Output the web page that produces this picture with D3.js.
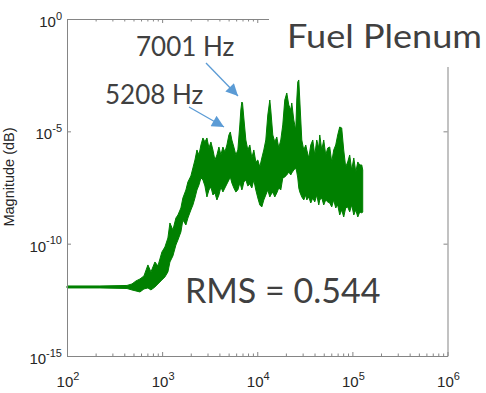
<!DOCTYPE html>
<html><head><meta charset="utf-8">
<script src="https://cdn.jsdelivr.net/npm/d3@7"></script>
<style>html,body{margin:0;padding:0;background:#fff;} svg{display:block;}</style>
</head><body>
<svg id="c" width="486" height="393"></svg>
<script>
// ---- data ----
const freq = [100,222,427,482,531,585,644,709,763,840,903,995,1070,1150,1208,1298,1396,1466,1575,1653,1778,1866,2006,2107,2213,2323,2438,2559,2685,2818,2958,3105,3258,3420,3589,3767,3954,4150,4355,4571,4797,5035,5208,5408,5675,5957,6252,6561,6722,6886,7001,7228,7586,7962,8356,8770,9204,9660,10140,10640,11170,11720,12300,12910,13550,13880,14570,15290,16050,16840,17680,18550,19470,20440,21450,22510,23070,24210,25410,26030,26670,27330,28000,29390,30840,32370,33170,34810,36530,38340,40240,42230,44320,45400,47650,50000,52480,55080,57810,60670,63670,66820,70130,73600,77240,81070,85080,89290,93710,98350,103500,108600,114000,119600,125500,128500];
const magUpper = [1.31e-12,1.31e-12,1.38e-12,1.61e-12,2.19e-12,2.69e-12,3.65e-12,1.13e-11,5.5e-12,1.53e-11,1.02e-11,4.27e-11,7.13e-11,1.79e-10,8.34e-10,4.07e-10,1.39e-9,1.89e-9,3.88e-9,1.08e-8,2.45e-8,5.57e-8,1.03e-7,2.34e-7,5.31e-7,1.48e-6,8.86e-7,2.47e-6,5.06e-6,3.36e-6,5.06e-6,1.82e-6,3.36e-6,1.48e-6,5.31e-7,8.86e-7,2.01e-6,8.86e-7,2.01e-6,1.2e-6,2.47e-6,6.88e-6,9.36e-6,4.12e-6,2.01e-6,8.86e-7,1.48e-6,1.92e-5,8.92e-5,2.02e-4,1.83e-4,3.93e-5,4.12e-6,1.48e-6,2.47e-6,6.52e-7,1.48e-6,4.33e-7,5.31e-7,2.59e-7,6.52e-7,1.48e-6,4.12e-6,5.34e-5,2.48e-4,8.92e-5,6.88e-6,3.36e-6,5.61e-6,1.82e-6,4.12e-6,1.92e-5,2.48e-4,5.09e-4,1.49e-4,8.92e-5,1.83e-4,3.2e-5,1.15e-5,2.48e-4,1.57e-3,1.93e-3,2.48e-4,4.12e-6,1.48e-6,2.47e-6,1.48e-6,6.52e-7,2.47e-6,4.12e-6,8.86e-7,4.12e-6,1.82e-6,6.88e-6,1.48e-6,4.12e-6,8.86e-7,1.82e-6,2.01e-6,4.33e-7,1.48e-6,2.47e-6,6.88e-6,1.56e-5,1.41e-5,1.48e-6,2.59e-7,4.33e-7,8.86e-7,1.9e-7,6.52e-7,1.55e-7,4.33e-7,3.18e-7,3.18e-7,1.9e-7];
const magLower = [1.07e-12,1.07e-12,1.01e-12,8.7e-13,7.85e-13,7.08e-13,9.64e-13,1.07e-12,8.7e-13,1.18e-12,1.61e-12,2.42e-12,3.3e-12,5.5e-12,1.53e-11,2.84e-11,8.75e-11,1.46e-10,3.32e-10,1.13e-9,6.8e-10,1.39e-9,3.16e-9,5.28e-9,1.08e-8,2.45e-8,4.1e-8,8.39e-8,6.84e-8,3.7e-8,1.2e-8,2.45e-8,3.34e-8,1.47e-8,1.8e-8,8.8e-9,1.47e-8,3.34e-8,2.0e-8,3.01e-8,4.54e-8,6.84e-8,9.3e-8,5.03e-8,3.01e-8,2.0e-8,2.45e-8,5.03e-8,3.7e-8,2.45e-8,3.01e-8,5.57e-8,6.84e-8,3.7e-8,4.54e-8,3.01e-8,6.84e-8,2.45e-8,1.08e-8,5.28e-9,4.3e-9,8.8e-9,1.47e-8,2.45e-8,1.2e-8,1.47e-8,2.0e-8,1.2e-8,1.8e-8,3.01e-8,2.45e-8,8.39e-8,9.3e-8,1.14e-7,1.55e-7,1.14e-7,1.4e-7,1.9e-7,2.34e-7,1.55e-7,8.39e-8,3.01e-8,2.0e-8,1.2e-8,8.8e-9,1.47e-8,8.8e-9,1.2e-8,6.47e-9,1.08e-8,7.18e-9,1.47e-8,5.28e-9,8.8e-9,1.08e-8,5.28e-9,8.8e-9,7.18e-9,6.47e-9,4.3e-9,8.8e-9,3.88e-9,5.28e-9,1.89e-9,3.16e-9,1.54e-9,3.88e-9,4.3e-9,2.58e-9,5.28e-9,1.89e-9,3.16e-9,1.54e-9,2.58e-9,2.32e-9,2.58e-9];
const xTickExp = [2,3,4,5,6];
const yTickExp = [0,-5,-10,-15];
const annotations = [
  {label:"7001 Hz", f:7001},
  {label:"5208 Hz", f:5208}
];
const title = "Fuel Plenum";
const rmsText = "RMS = 0.544";
const yLabel = "Magnitude (dB)";

// ---- drawing ----
const svg = d3.select("#c");
const x = d3.scaleLog().domain([1e2,1e6]).range([67,447.5]);
const y = d3.scaleLog().domain([1e-15,1]).range([356,19]);
const axisColor = "#858585", labelColor = "#262626";

const data = freq.map((f,i)=>({f, hi:magUpper[i], lo:magLower[i]}));

svg.append("path").datum(data)
  .attr("d", d3.area().x(d=>x(d.f)).y0(d=>y(d.lo)).y1(d=>y(d.hi)))
  .attr("fill","#008000").attr("stroke","#008000").attr("stroke-width",1)
  .attr("stroke-linejoin","miter");

const majors = xTickExp.map(e=>Math.pow(10,e));
const minors = [];
xTickExp.slice(0,-1).forEach(e=>{for(let k=2;k<=9;k++) minors.push(k*Math.pow(10,e));});
function styleAxis(g){
  g.select(".domain").attr("stroke",axisColor).attr("stroke-width",1);
  g.selectAll(".tick line").attr("stroke",axisColor).attr("stroke-width",1);
  g.selectAll("text").remove();
}
svg.append("g").attr("transform","translate(0,356)")
  .call(d3.axisBottom(x).tickValues(majors).tickSizeInner(-4).tickSizeOuter(0).tickFormat("")).call(styleAxis);
svg.append("g").attr("transform","translate(0,356)")
  .call(d3.axisBottom(x).tickValues(minors).tickSizeInner(-2.5).tickSizeOuter(0).tickFormat("")).call(styleAxis);
svg.append("g").attr("transform","translate(0,19)")
  .call(d3.axisTop(x).tickValues(majors).tickSizeInner(-4).tickSizeOuter(0).tickFormat("")).call(styleAxis);
svg.append("g").attr("transform","translate(0,19)")
  .call(d3.axisTop(x).tickValues(minors).tickSizeInner(-2.5).tickSizeOuter(0).tickFormat("")).call(styleAxis);
const yMaj = yTickExp.map(e=>Math.pow(10,e));
svg.append("g").attr("transform","translate(67,0)")
  .call(d3.axisLeft(y).tickValues(yMaj).tickSizeInner(-4).tickSizeOuter(0).tickFormat("")).call(styleAxis);
svg.append("g").attr("transform","translate(447.5,0)")
  .call(d3.axisRight(y).tickValues(yMaj).tickSizeInner(-4).tickSizeOuter(0).tickFormat("")).call(styleAxis);

function powLabel(g, e){
  g.append("tspan").text("10");
  g.append("tspan").attr("dy",-7.5).attr("font-size",11).text(String(e));
}
xTickExp.forEach(e=>{
  const t = svg.append("text").attr("x",x(Math.pow(10,e))+1).attr("y",387)
    .attr("text-anchor","middle").attr("font-family","Liberation Sans, Arial, sans-serif")
    .attr("font-size",15).attr("fill",labelColor);
  powLabel(t,e);
});
yTickExp.forEach(e=>{
  const t = svg.append("text").attr("x",62).attr("y",y(Math.pow(10,e))+8)
    .attr("text-anchor","end").attr("font-family","Liberation Sans, Arial, sans-serif")
    .attr("font-size",15).attr("fill",labelColor);
  powLabel(t,e);
});
svg.append("text").attr("transform","translate(14,177) rotate(-90)")
  .attr("text-anchor","middle").attr("font-family","Liberation Sans, Arial, sans-serif")
  .attr("font-size",14.5).attr("fill",labelColor).text(yLabel);

svg.append("rect").attr("x",269).attr("y",0).attr("width",217).attr("height",67).attr("fill","#fff");
svg.append("text").attr("x",287).attr("y",48).attr("font-family","Lato, 'Open Sans', sans-serif")
  .attr("font-size",33).attr("fill","#404040")
  .attr("textLength",195).attr("lengthAdjust","spacingAndGlyphs").text(title);

svg.append("text").attr("x",185).attr("y",303).attr("font-family","Lato, 'Open Sans', sans-serif")
  .attr("font-size",34).attr("fill","#404040").text(rmsText);

const annPos = [
  {tx:136, ty:56, x1:206, y1:63, x2:238, y2:96},
  {tx:105, ty:104, x1:189, y1:107, x2:224, y2:127}
];
const defs = svg.append("defs");
defs.append("marker").attr("id","ah").attr("viewBox","0 0 10 10").attr("refX",10).attr("refY",5)
  .attr("markerWidth",14).attr("markerHeight",12).attr("markerUnits","userSpaceOnUse").attr("orient","auto")
  .append("path").attr("d","M0,0 L10,5 L0,10 Z").attr("fill","#5b9bd5");
annotations.forEach((a,i)=>{
  const p = annPos[i];
  svg.append("text").attr("x",p.tx).attr("y",p.ty).attr("font-family","Lato, 'Open Sans', sans-serif")
    .attr("font-size",26).attr("fill","#404040").text(a.label);
  svg.append("line").attr("x1",p.x1).attr("y1",p.y1).attr("x2",p.x2).attr("y2",p.y2)
    .attr("stroke","#5b9bd5").attr("stroke-width",1.3).attr("marker-end","url(#ah)");
});
</script>
</body></html>
